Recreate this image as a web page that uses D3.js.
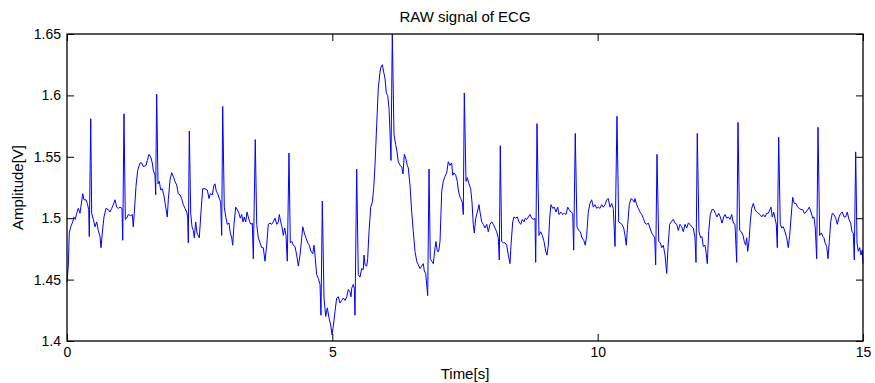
<!DOCTYPE html>
<html><head><meta charset="utf-8">
<script src="https://cdn.jsdelivr.net/npm/d3@7"></script>
<style>body{margin:0;background:#fff}svg{display:block;font-family:"Liberation Sans",Arial,Helvetica,sans-serif}</style>
</head><body><svg id="c" width="875" height="383"></svg>
<script>
const time = [0.000,0.024,0.043,0.070,0.107,0.132,0.156,0.183,0.213,0.245,0.296,0.320,0.358,0.383,0.409,0.420,0.447,0.465,0.496,0.528,0.560,0.590,0.622,0.641,0.665,0.697,0.735,0.778,0.810,0.842,0.872,0.905,0.937,0.967,0.999,1.036,1.050,1.074,1.099,1.125,1.155,1.200,1.231,1.249,1.268,1.300,1.332,1.376,1.408,1.438,1.489,1.513,1.545,1.577,1.607,1.626,1.658,1.671,1.690,1.715,1.739,1.766,1.796,1.828,1.860,1.890,1.909,1.941,1.973,2.003,2.035,2.067,2.097,2.129,2.161,2.192,2.224,2.256,2.274,2.286,2.305,2.331,2.356,2.380,2.399,2.425,2.450,2.493,2.525,2.557,2.600,2.644,2.676,2.700,2.738,2.770,2.789,2.813,2.840,2.870,2.896,2.915,2.934,2.964,2.996,3.021,3.053,3.077,3.104,3.122,3.147,3.179,3.209,3.241,3.266,3.292,3.317,3.341,3.367,3.392,3.416,3.443,3.467,3.492,3.511,3.548,3.575,3.605,3.637,3.669,3.699,3.731,3.763,3.793,3.825,3.857,3.888,3.920,3.952,3.982,4.001,4.027,4.051,4.076,4.102,4.127,4.151,4.183,4.208,4.240,4.264,4.296,4.328,4.359,4.391,4.423,4.442,4.472,4.504,4.536,4.566,4.598,4.630,4.654,4.679,4.705,4.736,4.768,4.786,4.811,4.843,4.875,4.905,4.937,4.969,4.994,5.018,5.050,5.082,5.112,5.144,5.176,5.207,5.239,5.271,5.301,5.333,5.352,5.365,5.395,5.414,5.427,5.459,5.489,5.521,5.553,5.583,5.597,5.616,5.648,5.666,5.691,5.723,5.753,5.779,5.804,5.836,5.866,5.898,5.917,5.942,5.968,5.992,6.017,6.043,6.068,6.087,6.105,6.130,6.162,6.194,6.219,6.243,6.275,6.307,6.332,6.356,6.382,6.413,6.431,6.463,6.496,6.526,6.558,6.590,6.620,6.652,6.684,6.714,6.733,6.759,6.778,6.797,6.822,6.846,6.872,6.903,6.935,6.953,6.978,7.004,7.029,7.048,7.061,7.091,7.123,7.155,7.185,7.217,7.249,7.268,7.293,7.325,7.355,7.374,7.393,7.419,7.449,7.468,7.487,7.519,7.543,7.575,7.607,7.632,7.656,7.675,7.702,7.732,7.764,7.783,7.815,7.845,7.877,7.909,7.939,7.971,8.003,8.033,8.065,8.097,8.127,8.146,8.165,8.191,8.222,8.254,8.286,8.316,8.348,8.367,8.399,8.423,8.455,8.485,8.517,8.550,8.580,8.612,8.636,8.663,8.693,8.725,8.757,8.787,8.819,8.832,8.857,8.894,8.926,8.957,8.989,9.021,9.045,9.070,9.096,9.120,9.153,9.183,9.215,9.247,9.271,9.309,9.341,9.371,9.403,9.435,9.465,9.497,9.529,9.548,9.578,9.610,9.642,9.673,9.705,9.737,9.767,9.793,9.823,9.855,9.887,9.918,9.950,9.982,10.012,10.044,10.076,10.106,10.138,10.170,10.200,10.232,10.264,10.294,10.327,10.364,10.396,10.426,10.458,10.490,10.515,10.539,10.566,10.596,10.628,10.660,10.690,10.703,10.735,10.766,10.798,10.830,10.860,10.892,10.924,10.954,10.986,11.018,11.048,11.075,11.093,11.118,11.150,11.180,11.207,11.237,11.269,11.301,11.325,11.357,11.387,11.425,11.457,11.489,11.519,11.551,11.583,11.614,11.646,11.678,11.708,11.740,11.772,11.802,11.834,11.853,11.877,11.909,11.941,11.966,11.990,12.022,12.041,12.066,12.092,12.122,12.154,12.186,12.217,12.249,12.281,12.311,12.343,12.375,12.399,12.431,12.462,12.494,12.526,12.556,12.588,12.620,12.644,12.676,12.707,12.739,12.763,12.789,12.808,12.827,12.852,12.876,12.902,12.933,12.965,12.997,13.027,13.059,13.091,13.121,13.153,13.185,13.215,13.247,13.266,13.291,13.317,13.342,13.366,13.385,13.411,13.441,13.468,13.498,13.530,13.562,13.592,13.619,13.643,13.675,13.705,13.737,13.769,13.799,13.831,13.864,13.894,13.926,13.958,13.988,14.020,14.052,14.076,14.101,14.127,14.152,14.184,14.214,14.246,14.265,14.284,14.316,14.340,14.365,14.391,14.421,14.453,14.485,14.516,14.548,14.580,14.610,14.642,14.674,14.704,14.736,14.768,14.792,14.817,14.836,14.862,14.887,14.911,14.938,14.962,14.987,15.000];
const amplitude = [1.448,1.461,1.488,1.493,1.497,1.501,1.499,1.504,1.508,1.504,1.520,1.515,1.515,1.512,1.507,1.485,1.581,1.504,1.499,1.493,1.497,1.490,1.485,1.476,1.488,1.501,1.508,1.507,1.505,1.508,1.511,1.515,1.509,1.508,1.509,1.508,1.482,1.585,1.499,1.500,1.503,1.502,1.503,1.493,1.504,1.526,1.539,1.545,1.545,1.542,1.543,1.547,1.552,1.550,1.545,1.539,1.535,1.519,1.601,1.528,1.530,1.523,1.524,1.518,1.509,1.501,1.515,1.531,1.537,1.534,1.530,1.527,1.520,1.519,1.516,1.511,1.508,1.505,1.501,1.480,1.571,1.504,1.493,1.490,1.484,1.497,1.488,1.484,1.505,1.524,1.524,1.523,1.516,1.520,1.519,1.527,1.528,1.522,1.520,1.516,1.513,1.486,1.591,1.509,1.500,1.495,1.496,1.488,1.484,1.478,1.495,1.509,1.507,1.504,1.500,1.503,1.497,1.501,1.497,1.505,1.501,1.497,1.495,1.496,1.467,1.564,1.495,1.484,1.480,1.476,1.476,1.465,1.478,1.495,1.496,1.495,1.497,1.500,1.495,1.497,1.503,1.497,1.493,1.486,1.492,1.486,1.465,1.553,1.480,1.481,1.478,1.477,1.470,1.461,1.470,1.484,1.493,1.488,1.484,1.480,1.478,1.473,1.471,1.478,1.467,1.454,1.451,1.446,1.421,1.514,1.435,1.420,1.427,1.419,1.413,1.405,1.412,1.424,1.435,1.436,1.431,1.433,1.435,1.433,1.436,1.442,1.440,1.436,1.443,1.446,1.443,1.421,1.540,1.454,1.452,1.459,1.458,1.470,1.462,1.461,1.467,1.489,1.509,1.513,1.524,1.543,1.576,1.606,1.619,1.623,1.625,1.619,1.614,1.602,1.600,1.590,1.570,1.547,1.650,1.568,1.560,1.554,1.546,1.543,1.542,1.536,1.552,1.549,1.543,1.541,1.527,1.505,1.489,1.473,1.465,1.462,1.459,1.461,1.463,1.457,1.455,1.446,1.437,1.540,1.467,1.465,1.463,1.476,1.481,1.473,1.473,1.481,1.505,1.522,1.530,1.534,1.537,1.546,1.543,1.545,1.535,1.537,1.535,1.530,1.523,1.519,1.516,1.513,1.503,1.602,1.530,1.533,1.528,1.524,1.513,1.495,1.488,1.500,1.505,1.511,1.505,1.497,1.495,1.492,1.495,1.489,1.495,1.497,1.495,1.492,1.489,1.484,1.466,1.559,1.481,1.480,1.480,1.478,1.470,1.463,1.478,1.497,1.501,1.500,1.501,1.497,1.495,1.499,1.497,1.500,1.499,1.501,1.503,1.500,1.499,1.500,1.464,1.577,1.486,1.489,1.486,1.481,1.473,1.470,1.478,1.500,1.511,1.508,1.509,1.505,1.509,1.503,1.505,1.503,1.504,1.503,1.509,1.507,1.505,1.504,1.474,1.569,1.493,1.490,1.489,1.484,1.482,1.478,1.486,1.505,1.512,1.515,1.509,1.511,1.508,1.509,1.508,1.511,1.509,1.511,1.515,1.516,1.509,1.512,1.508,1.477,1.583,1.497,1.496,1.495,1.492,1.486,1.478,1.495,1.511,1.516,1.515,1.513,1.516,1.511,1.508,1.505,1.503,1.500,1.496,1.495,1.496,1.492,1.488,1.486,1.484,1.462,1.552,1.481,1.480,1.476,1.478,1.470,1.455,1.476,1.495,1.497,1.499,1.496,1.495,1.490,1.495,1.493,1.489,1.495,1.492,1.496,1.495,1.493,1.492,1.484,1.464,1.569,1.489,1.484,1.485,1.477,1.478,1.473,1.463,1.489,1.503,1.507,1.507,1.504,1.501,1.504,1.501,1.496,1.501,1.503,1.500,1.501,1.499,1.503,1.496,1.495,1.464,1.578,1.490,1.489,1.486,1.481,1.478,1.484,1.473,1.481,1.497,1.508,1.512,1.507,1.505,1.504,1.503,1.501,1.503,1.501,1.504,1.504,1.507,1.509,1.501,1.505,1.500,1.495,1.476,1.566,1.495,1.492,1.493,1.489,1.484,1.476,1.486,1.500,1.517,1.512,1.512,1.509,1.508,1.507,1.507,1.504,1.505,1.507,1.509,1.505,1.500,1.501,1.492,1.467,1.574,1.486,1.488,1.485,1.484,1.480,1.477,1.467,1.481,1.497,1.504,1.503,1.500,1.495,1.501,1.504,1.505,1.501,1.501,1.505,1.499,1.496,1.489,1.488,1.466,1.554,1.480,1.473,1.476,1.470,1.474,1.463];
const xTicks = [0, 5, 10, 15];
const yTicks = [1.4, 1.45, 1.5, 1.55, 1.6, 1.65];
const xDomain = [0, 15];
const yDomain = [1.4, 1.65];
const titleText = "RAW signal of ECG";
const xLabel = "Time[s]";
const yLabel = "Amplitude[V]";

const svg = d3.select("#c");
const L = 67, R = 863, T = 34, B = 341;
const x = d3.scaleLinear().domain(xDomain).range([L, R]);
const y = d3.scaleLinear().domain(yDomain).range([B, T]);
const tick = 7;

const pts = time.map((t, i) => [t, amplitude[i]]);
svg.append("path").datum(pts)
  .attr("fill", "none").attr("stroke", "#0000ff").attr("stroke-width", 1)
  .attr("stroke-linejoin", "round")
  .attr("d", d3.line().x(d => x(d[0])).y(d => y(d[1])));

function styleAxis(g, fs) {
  g.select(".domain").remove();
  g.selectAll(".tick line").attr("stroke", "#000").attr("stroke-width", 1);
  g.selectAll(".tick text").attr("fill", "#000").attr("font-size", fs)
    .attr("font-family", '"Liberation Sans",Arial,sans-serif');
}
svg.append("g").attr("transform", `translate(0,${B})`)
  .call(d3.axisBottom(x).tickValues(xTicks).tickFormat(d3.format("d")).tickSizeInner(-tick).tickSizeOuter(0).tickPadding(6))
  .call(g => styleAxis(g, 14));
svg.append("g").attr("transform", `translate(0,${T})`)
  .call(d3.axisTop(x).tickValues(xTicks).tickFormat("").tickSizeInner(-tick).tickSizeOuter(0))
  .call(g => styleAxis(g, 14));
svg.append("g").attr("transform", `translate(${L},0)`)
  .call(d3.axisLeft(y).tickValues(yTicks).tickFormat(d => d3.format("")(+d.toFixed(2))).tickSizeInner(-tick).tickSizeOuter(0).tickPadding(6))
  .call(g => styleAxis(g, 14));
svg.append("g").attr("transform", `translate(${R},0)`)
  .call(d3.axisRight(y).tickValues(yTicks).tickFormat("").tickSizeInner(-tick).tickSizeOuter(0))
  .call(g => styleAxis(g, 14));

svg.append("rect").attr("x", L).attr("y", T).attr("width", R - L).attr("height", B - T)
  .attr("fill", "none").attr("stroke", "#000").attr("stroke-width", 1.3);

svg.append("text").attr("x", (L + R) / 2).attr("y", 22).attr("text-anchor", "middle")
  .attr("font-size", 15).attr("fill", "#000").text(titleText);
svg.append("text").attr("x", (L + R) / 2).attr("y", 379).attr("text-anchor", "middle")
  .attr("font-size", 15).attr("fill", "#000").text(xLabel);
svg.append("text").attr("transform", `translate(23,${(T + B) / 2}) rotate(-90)`).attr("text-anchor", "middle")
  .attr("font-size", 15).attr("fill", "#000").text(yLabel);
</script></body></html>
